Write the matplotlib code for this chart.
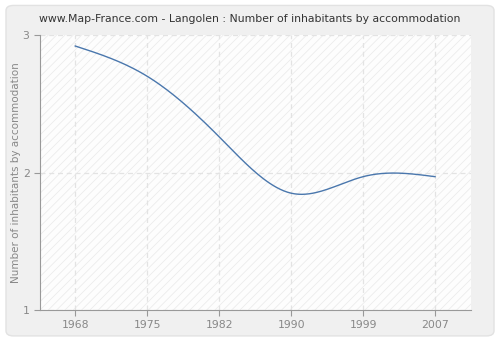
import matplotlib
matplotlib.use('Agg')
import matplotlib.pyplot as plt
from matplotlib.patches import FancyBboxPatch, Rectangle
import numpy as np

# data
years = ['1968', '1975', '1982', '1990', '1999', '2007']
values = [2.92, 2.70, 2.26, 1.85, 1.97, 1.97]
y_ticks = [1, 2, 3]


# natural cubic spline, the original draws a smoothed line through the points
def spline(xs, ys, n=40):
    xs = np.asarray(xs, float)
    ys = np.asarray(ys, float)
    k = len(xs)
    h = np.diff(xs)
    A = np.zeros((k, k))
    b = np.zeros(k)
    A[0, 0] = 1
    A[-1, -1] = 1
    for i in range(1, k - 1):
        A[i, i - 1] = h[i - 1]
        A[i, i] = 2 * (h[i - 1] + h[i])
        A[i, i + 1] = h[i]
        b[i] = 3 * ((ys[i + 1] - ys[i]) / h[i] - (ys[i] - ys[i - 1]) / h[i - 1])
    c = np.linalg.solve(A, b)
    outx = []
    outy = []
    for i in range(k - 1):
        bb = (ys[i + 1] - ys[i]) / h[i] - h[i] * (2 * c[i] + c[i + 1]) / 3
        d = (c[i + 1] - c[i]) / (3 * h[i])
        t = np.linspace(0, h[i], n, endpoint=(i == k - 2))
        outx.extend(xs[i] + t)
        outy.extend(ys[i] + bb * t + c[i] * t ** 2 + d * t ** 3)
    return np.array(outx), np.array(outy)


plt.rcParams['hatch.linewidth'] = 0.6
fig = plt.figure(figsize=(5, 3.4), dpi=100)
fig.patch.set_facecolor('white')
fig.patches.append(FancyBboxPatch((0.012, 0.012), 0.976, 0.972,
                                  boxstyle='round,pad=0,rounding_size=0.015',
                                  transform=fig.transFigure, facecolor='#f0f0f0',
                                  edgecolor='#e2e2e2', linewidth=1, zorder=-10))

ax = fig.add_axes([0.08, 0.088, 0.862, 0.809])
ax.set_facecolor('#fdfdfd')
ax.add_patch(Rectangle((0, 0), 1, 1, transform=ax.transAxes, facecolor='none',
                       edgecolor='#ececec', hatch='////', linewidth=0, zorder=0))

idx = np.arange(len(years))
sx, sy = spline(idx, values)
ax.plot(sx, sy, color='#4a77ad', linewidth=1.0, zorder=3)

ax.set_xlim(-0.49, 5.5)
ax.set_ylim(1, 3)
ax.set_xticks(idx)
ax.set_xticklabels(years)
ax.set_yticks(y_ticks)
ax.grid(True, color='#e3e3e3', linestyle=(0, (4, 3)), linewidth=0.9)
ax.set_axisbelow(True)

for s in ['top', 'right']:
    ax.spines[s].set_visible(False)
for s in ['left', 'bottom']:
    ax.spines[s].set_color('#999999')
ax.tick_params(colors='#999999', labelcolor='#888888', labelsize=7.8, length=4)

ax.set_ylabel('Number of inhabitants by accommodation', color='#888888', fontsize=7.5,
              labelpad=1)
fig.text(0.5, 0.945, 'www.Map-France.com - Langolen : Number of inhabitants by accommodation',
         ha='center', va='center', fontsize=7.8, color='#333333')

fig.savefig('out.png', dpi=100)
